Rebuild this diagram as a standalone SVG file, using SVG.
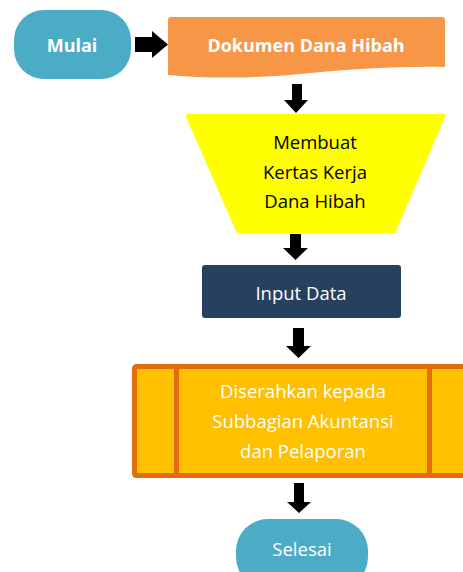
<svg xmlns="http://www.w3.org/2000/svg" width="463" height="572" viewBox="0 0 463 572">
  <style>
    .t { font-family: "Open Sans", "Noto Sans", sans-serif; font-size: 18.5px; text-anchor: middle; }
    .b { font-weight: bold; font-size: 18px; }
    .w { fill: #ffffff; }
    .k { fill: #000000; }
    .arrow { fill: #000000; }
  </style>
  <rect width="463" height="572" fill="#ffffff"/>

  <g id="connectors">
    <!-- Mulai -> Dokumen -->
    <path class="arrow" d="M135,37 L152,37 L152,31 L168,44.5 L152,58 L152,52 L135,52 Z"/>
    <!-- Dokumen -> Membuat -->
    <path class="arrow" d="M292,84 L302,84 L302,100 L308,100 L296,113 L284,100 L292,100 Z"/>
    <!-- Membuat -> Input Data -->
    <path class="arrow" d="M290,234 L301,234 L301,248 L308,248 L295.5,260 L283,248 L290,248 Z"/>
    <!-- Input Data -> Diserahkan -->
    <path class="arrow" d="M293,328 L304,328 L304,346 L311,346 L298.5,358 L286,346 L293,346 Z"/>
    <!-- Diserahkan -> Selesai -->
    <path class="arrow" d="M294,483 L304,483 L304,502 L311,502 L299,513 L287,502 L294,502 Z"/>
  </g>

  <g id="mulai">
    <rect x="14" y="10" width="117" height="69" rx="30" ry="30" fill="#4BACC6"/>
    <text class="t b w" x="72" y="52">Mulai</text>
  </g>

  <g id="dokumen">
    <path d="M171,17 L442,17 Q445,17 445,20 L445,67 C400,66 350,69 300,74 C260,78 215,79 168,75 L168,20 Q168,17 171,17 Z" fill="#F79646"/>
    <text class="t b w" x="306" y="52">Dokumen Dana Hibah</text>
  </g>

  <g id="membuat">
    <path d="M188,114 L443,114 Q446,114 445,117 L396,231 Q395,233 393,233 L239,233 Q237,233 236,231 L186,117 Q185,114 188,114 Z" fill="#FFFF00"/>
    <text class="t k" x="315" y="149">Membuat</text>
    <text class="t k" x="315" y="179">Kertas Kerja</text>
    <text class="t k" x="315" y="208">Dana Hibah</text>
  </g>

  <g id="input-data">
    <rect x="202" y="265" width="199" height="53" rx="3" fill="#26415F"/>
    <text class="t w" x="301" y="300">Input Data</text>
  </g>

  <g id="diserahkan">
    <rect x="134.5" y="366.5" width="345" height="109" rx="2" fill="#FFC000" stroke="#E46C0A" stroke-width="5"/>
    <line x1="176.5" y1="366.5" x2="176.5" y2="475.5" stroke="#E46C0A" stroke-width="5"/>
    <line x1="429.5" y1="366.5" x2="429.5" y2="475.5" stroke="#E46C0A" stroke-width="5"/>
    <text class="t w" x="303" y="398">Diserahkan kepada</text>
    <text class="t w" x="303" y="428">Subbagian Akuntansi</text>
    <text class="t w" x="303" y="458">dan Pelaporan</text>
  </g>

  <g id="selesai">
    <rect x="236" y="519" width="132" height="70" rx="32" ry="32" fill="#4BACC6"/>
    <text class="t w" x="302" y="556">Selesai</text>
  </g>
</svg>
